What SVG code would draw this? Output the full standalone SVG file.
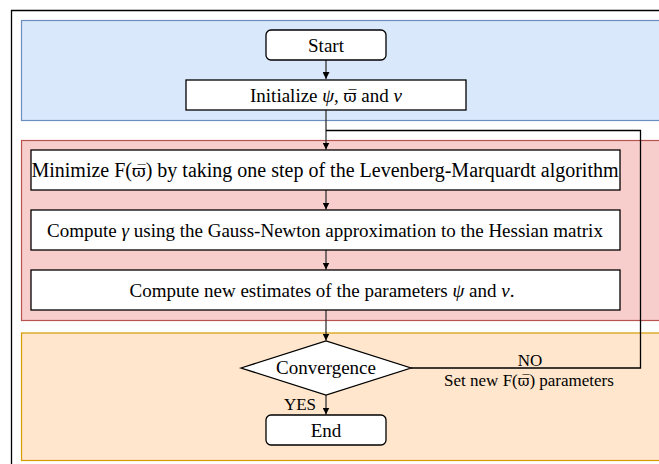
<svg xmlns="http://www.w3.org/2000/svg" width="659" height="464" viewBox="0 0 659 464">
<style>
text{font-family:"Liberation Serif","Times New Roman",serif;font-size:19px;fill:#000;text-anchor:middle}
.lbl{font-size:17px}
.box{fill:#fff;stroke:#000;stroke-width:1.3}
.edge{fill:none;stroke:#333;stroke-width:1.3}
.loop{fill:none;stroke:#000;stroke-width:1.3}
.i{font-style:italic}
.dj{font-family:"DejaVu Serif",serif;font-size:0.84em}
</style>
<defs>
<marker id="ah" viewBox="0 0 10 10" refX="10" refY="5" markerWidth="7" markerHeight="7" markerUnits="userSpaceOnUse" orient="auto">
<path d="M0,0 L10,5 L0,10 Z" fill="#000"/>
</marker>
</defs>
<rect width="659" height="464" fill="#fff"/>
<path d="M11.5,464 V10.5 H659" fill="none" stroke="#000" stroke-width="1.3"/>
<g id="panels">
<rect x="21.5" y="20.5" width="650" height="100" fill="#dae8fc" stroke="#6c8ebf" stroke-width="1.2"/>
<rect x="21.5" y="140.5" width="650" height="180" fill="#f8cecc" stroke="#b85450" stroke-width="1.2"/>
<rect x="21.5" y="333" width="650" height="127.5" fill="#ffe6cc" stroke="#d79b00" stroke-width="1.2"/>
</g>
<g id="connectors">
<path class="edge" d="M326,60 V79" marker-end="url(#ah)"/>
<path class="edge" d="M326,110 V149.5" marker-end="url(#ah)"/>
<path class="edge" d="M326,190 V209.5" marker-end="url(#ah)"/>
<path class="edge" d="M326,250 V269.5" marker-end="url(#ah)"/>
<path class="edge" d="M326,310 V340.5" marker-end="url(#ah)"/>
<path class="edge" d="M326,395 V414.5" marker-end="url(#ah)"/>
<path class="loop" d="M411,368 H640.5 V130.5 H326"/>
<text class="lbl" x="530" y="366">NO</text>
<text class="lbl" x="529" y="386">Set new F(<tspan class="dj">ϖ̅</tspan>) parameters</text>
<text class="lbl" x="316" y="410" style="text-anchor:end">YES</text>
</g>
<g id="start">
<rect class="box" x="266" y="30" width="120" height="30" rx="5"/>
<text x="326" y="51.5">Start</text>
</g>
<g id="init">
<rect class="box" x="186" y="80" width="280" height="30"/>
<text x="326" y="101.5">Initialize <tspan class="i">ψ</tspan>, <tspan class="dj">ϖ̅</tspan> and <tspan class="i">ν</tspan></text>
</g>
<g id="minimize">
<rect class="box" x="31" y="150" width="589" height="40"/>
<text x="325" y="176.5" style="font-size:20px">Minimize F(<tspan class="dj">ϖ̅</tspan>) by taking one step of the Levenberg-Marquardt algorithm</text>
</g>
<g id="gamma">
<rect class="box" x="31" y="210" width="589" height="40"/>
<text x="325" y="236.5">Compute <tspan class="i">γ</tspan> using the Gauss-Newton approximation to the Hessian matrix</text>
</g>
<g id="estimates">
<rect class="box" x="31" y="270" width="589" height="40"/>
<text x="322" y="296.5">Compute new estimates of the parameters <tspan class="i">ψ</tspan> and <tspan class="i">ν</tspan>.</text>
</g>
<g id="convergence">
<path class="box" d="M241,368 L326,341 L411,368 L326,395 Z"/>
<text x="326" y="374">Convergence</text>
</g>
<g id="end">
<rect class="box" x="266" y="415" width="120" height="30" rx="5"/>
<text x="326" y="436.5">End</text>
</g>
</svg>
